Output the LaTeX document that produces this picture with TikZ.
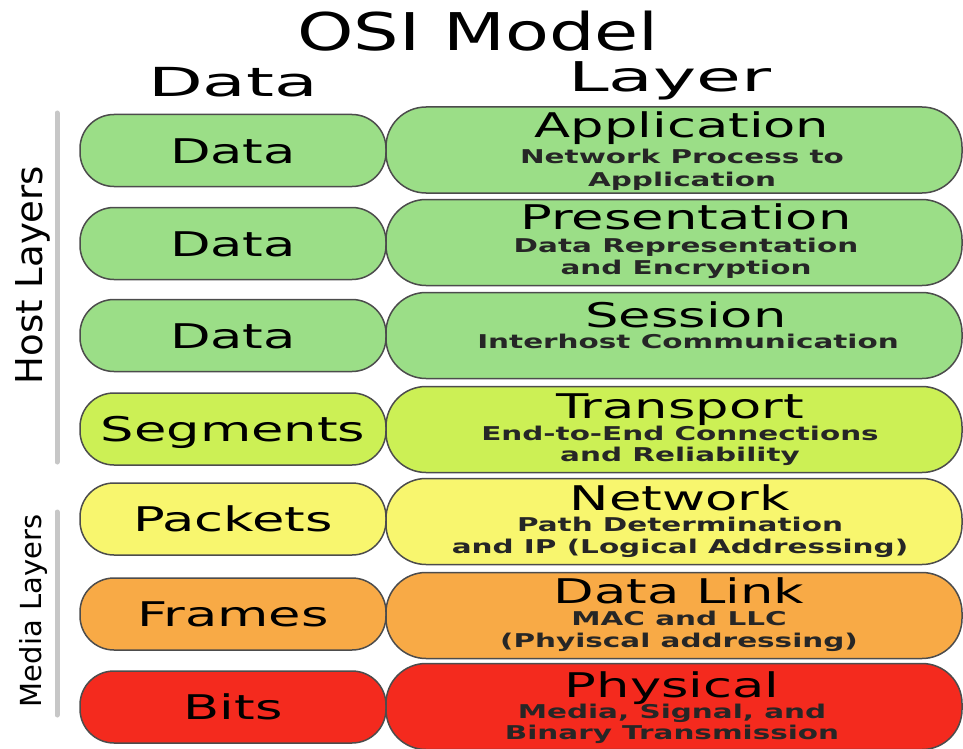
\documentclass[tikz,border=0pt]{standalone}
\usepackage{fontspec}
\setmainfont{DejaVu Sans}
\newfontfamily\titlefont[FakeStretch=1.38]{DejaVu Sans}
\newfontfamily\headfont[FakeStretch=1.78]{DejaVu Sans}
\newfontfamily\boxfont[FakeStretch=1.55]{DejaVu Sans}

\definecolor{hostgreen}{RGB}{155,222,135}
\definecolor{segmentgreen}{RGB}{204,240,85}
\definecolor{packetyellow}{RGB}{248,246,110}
\definecolor{frameorange}{RGB}{248,170,70}
\definecolor{bitred}{RGB}{244,42,30}

\begin{document}
\begin{tikzpicture}[x=1pt,y=-1pt,
		databox/.style={draw=black!70, line width=1.5pt, rounded corners=34pt, minimum width=306pt, minimum height=72pt, inner sep=0pt, text height=25pt, text depth=0pt, font=\boxfont\fontsize{34}{40}\selectfont},
		layerbox/.style={draw=black!70, line width=1.5pt, rounded corners=40pt, minimum width=576pt, minimum height=86pt, inner sep=0pt},
		layername/.style={anchor=base, inner sep=0pt, font=\boxfont\fontsize{34}{40}\selectfont},
		layerdesc/.style={anchor=base, inner sep=0pt, text=black!85, font=\boxfont\bfseries\fontsize{19}{22}\selectfont},
		grouplabel/.style={anchor=base, inner sep=0pt, rotate=90},
		groupbar/.style={draw=black!22, line width=5pt, line cap=round}]
		\useasboundingbox (0,0) rectangle (963,749);
		% title and column heads
		\node[anchor=base, inner sep=0pt, font=\titlefont\fontsize{52}{60}\selectfont] (title) at (478,51) {OSI Model};
		\node[anchor=base, inner sep=0pt, font=\headfont\fontsize{40}{46}\selectfont] (datahead) at (233,97) {Data};
		\node[anchor=base, inner sep=0pt, font=\headfont\fontsize{41}{46}\selectfont] (layerhead) at (670,92) {Layer};
		% groups
		\draw[groupbar] (57,113) -- (57,462);
		\draw[groupbar] (57,512) -- (57,715);
		\node[grouplabel, font=\fontsize{37}{40}\selectfont] (host) at (42,275) {Host Layers};
		\node[grouplabel, font=\fontsize{29}{34}\selectfont] (media) at (41,611) {Media Layers};
		% data units
		\node[databox, fill=hostgreen] (data7) at (233,150.5) {Data};
		\node[databox, fill=hostgreen] (data6) at (233,243.5) {Data};
		\node[databox, fill=hostgreen] (data5) at (233,335.5) {Data};
		\node[databox, fill=segmentgreen] (segments) at (233,429) {Segments};
		\node[databox, fill=packetyellow] (packets) at (233,519) {Packets};
		\node[databox, fill=frameorange] (frames) at (233,614) {Frames};
		\node[databox, fill=bitred] (bits) at (233,707) {Bits};
		% layers
		\node[layerbox, fill=hostgreen] (application) at (674,150) {};
		\node[layerbox, fill=hostgreen] (presentation) at (674,242.5) {};
		\node[layerbox, fill=hostgreen] (session) at (674,335.5) {};
		\node[layerbox, fill=segmentgreen] (transport) at (674,429.5) {};
		\node[layerbox, fill=packetyellow] (network) at (674,521.5) {};
		\node[layerbox, fill=frameorange] (datalink) at (674,615.5) {};
		\node[layerbox, fill=bitred] (physical) at (674,706.5) {};
		\node[layername] (application name) at (682,138) {Application};
		\node[layerdesc] (application desc1) at (682,163) {Network Process to};
		\node[layerdesc] (application desc2) at (682,186) {Application};
		\node[layername] (presentation name) at (686,229) {Presentation};
		\node[layerdesc] (presentation desc1) at (686,252) {Data Representation};
		\node[layerdesc] (presentation desc2) at (686,274) {and Encryption};
		\node[layername] (session name) at (686,327) {Session};
		\node[layerdesc] (session desc1) at (688,348) {Interhost Communication};
		\node[layername] (transport name) at (680,418) {Transport};
		\node[layerdesc] (transport desc1) at (680,440) {End-to-End Connections};
		\node[layerdesc] (transport desc2) at (680,461) {and Reliability};
		\node[layername] (network name) at (680,510) {Network};
		\node[layerdesc] (network desc1) at (680,531) {Path Determination};
		\node[layerdesc] (network desc2) at (680,553) {and IP (Logical Addressing)};
		\node[layername] (datalink name) at (679,603) {Data Link};
		\node[layerdesc] (datalink desc1) at (679,625) {MAC and LLC};
		\node[layerdesc] (datalink desc2) at (679,647) {(Phyiscal addressing)};
		\node[layername] (physical name) at (672,697) {Physical};
		\node[layerdesc] (physical desc1) at (672,718) {Media, Signal, and};
		\node[layerdesc] (physical desc2) at (672,739) {Binary Transmission};
	\end{tikzpicture}
\end{document}
